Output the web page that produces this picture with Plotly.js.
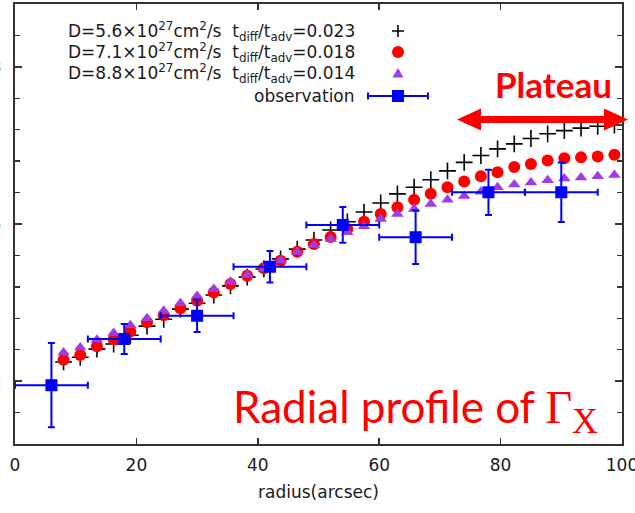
<!DOCTYPE html>
<html><head><meta charset="utf-8">
<script src="https://cdn.plot.ly/plotly-3.0.1.min.js"></script>
<style>html,body{margin:0;padding:0;background:#fff}#chart{width:635px;height:513px}</style>
</head><body><div id="chart"></div>
<script>
// ---- data ----
const radius = [8.0, 10.75, 13.5, 16.25, 19.0, 21.75, 24.5, 27.25, 30.0, 32.75, 35.5, 38.25, 41.0, 43.75, 46.5, 49.25, 52.0, 54.75, 57.5, 60.25, 63.0, 65.75, 68.5, 71.25, 74.0, 76.75, 79.5, 82.25, 85.0, 87.75, 90.5, 93.25, 96.0, 98.75];
const gammaD56 = [2.061, 2.076, 2.102, 2.118, 2.146, 2.175, 2.197, 2.229, 2.248, 2.274, 2.303, 2.331, 2.357, 2.389, 2.420, 2.449, 2.481, 2.507, 2.538, 2.567, 2.596, 2.617, 2.641, 2.669, 2.696, 2.718, 2.739, 2.755, 2.772, 2.787, 2.797, 2.805, 2.811, 2.815];
const gammaD71 = [2.068, 2.083, 2.111, 2.133, 2.158, 2.187, 2.210, 2.232, 2.256, 2.282, 2.309, 2.335, 2.359, 2.383, 2.412, 2.436, 2.459, 2.484, 2.507, 2.532, 2.553, 2.577, 2.596, 2.617, 2.635, 2.652, 2.665, 2.681, 2.691, 2.702, 2.709, 2.712, 2.715, 2.720];
const gammaD88 = [2.091, 2.107, 2.132, 2.153, 2.178, 2.200, 2.224, 2.248, 2.271, 2.293, 2.316, 2.338, 2.358, 2.384, 2.411, 2.433, 2.452, 2.474, 2.493, 2.516, 2.532, 2.548, 2.564, 2.577, 2.589, 2.603, 2.617, 2.626, 2.632, 2.639, 2.645, 2.648, 2.652, 2.656];
const obsRadius = [6, 18, 30, 42, 54, 66, 78, 90];
const obsRadiusErr = [6, 6, 6, 6, 6, 6, 6, 6];
const obsGamma = [1.987, 2.134, 2.208, 2.364, 2.497, 2.458, 2.601, 2.601];
const obsGammaErr = [0.134, 0.048, 0.052, 0.050, 0.057, 0.085, 0.072, 0.095];
const seriesLabels = [
  'D=5.6×10<sup>27</sup>cm<sup>2</sup>/s\u00a0\u00a0t<sub>diff</sub>/t<sub>adv</sub>=0.023',
  'D=7.1×10<sup>27</sup>cm<sup>2</sup>/s\u00a0\u00a0t<sub>diff</sub>/t<sub>adv</sub>=0.018',
  'D=8.8×10<sup>27</sup>cm<sup>2</sup>/s\u00a0\u00a0t<sub>diff</sub>/t<sub>adv</sub>=0.014',
  'observation'
];
const xTickVals = [0, 20, 40, 60, 80, 100];
const yTickVals = [2, 2.5, 3];
const yTickText = ['2', '2.5', '3'];
const xTitle = 'radius(arcsec)';
const plateauLabel = 'Plateau';
const panelLabel = 'Radial profile of <span style="font-family:\'Liberation Serif\';font-size:46px">Γ<sub><span style="font-size:36px">X</span></sub></span>';

// ---- styling ----
const FONT = 'DejaVu Sans, Liberation Sans, sans-serif';
const RED = '#ff0000', PURPLE = '#a03ce6', BLUE = '#0000ff';

const traces = [
  {x: radius, y: gammaD56, type: 'scatter', mode: 'markers', name: seriesLabels[0],
   marker: {symbol: 'cross-thin-open', size: 12, color: '#000', line: {width: 1.6, color: '#000'}}},
  {x: radius, y: gammaD71, type: 'scatter', mode: 'markers', name: seriesLabels[1],
   marker: {symbol: 'circle', size: 12, color: RED, line: {width: 0}}},
  {x: radius, y: gammaD88, type: 'scatter', mode: 'markers', name: seriesLabels[2],
   marker: {symbol: 'triangle-up', size: 11, color: PURPLE, line: {width: 0}}},
  {x: obsRadius, y: obsGamma, type: 'scatter', mode: 'markers', name: seriesLabels[3],
   marker: {symbol: 'square', size: 12, color: BLUE, line: {width: 0}},
   error_x: {type: 'data', array: obsRadiusErr, color: BLUE, thickness: 2, width: 3.5},
   error_y: {type: 'data', array: obsGammaErr, color: BLUE, thickness: 2, width: 3.5}}
];

// plot area: l=15, r=13, t=4, b=69  -> px helpers for decoration placement
const L = 15, T = 4, W = 607, H = 440;
const px = v => (v - L) / W;
const py = v => (T + H - v) / H;

const keyX = px(398);
const rowY = [31, 52, 73, 96].map(py);
const annotations = seriesLabels.map((t, i) => ({
  text: t, xref: 'paper', yref: 'paper', x: px(357), y: rowY[i],
  xanchor: 'right', yanchor: 'middle', showarrow: false,
  font: {family: FONT, size: 17, color: '#1a1a1a'}
}));
annotations.push({
  text: '<b>' + plateauLabel + '</b>', xref: 'paper', yref: 'paper', x: px(553), y: py(84),
  xanchor: 'center', yanchor: 'middle', showarrow: false,
  font: {family: 'Lato, Open Sans, sans-serif', size: 35, color: RED}
});
annotations.push({
  text: panelLabel, xref: 'paper', yref: 'paper', x: px(231), y: py(410),
  xanchor: 'left', yanchor: 'middle', showarrow: false,
  font: {family: 'Lato, Open Sans, sans-serif', size: 44, color: RED}
});

const pix = (xa, ya, extra) => Object.assign({xref: 'paper', yref: 'paper', xsizemode: 'pixel', ysizemode: 'pixel', xanchor: xa, yanchor: ya}, extra);
const shapes = [
  // legend keys
  pix(keyX, rowY[0], {type: 'path', path: 'M-6,0H6M0,-6V6', line: {color: '#000', width: 1.6}}),
  pix(keyX, rowY[1], {type: 'circle', x0: -6, x1: 6, y0: -6, y1: 6, fillcolor: RED, line: {width: 0}}),
  pix(keyX, rowY[2], {type: 'path', path: 'M-5.5,-4.5L5.5,-4.5L0,5Z', fillcolor: PURPLE, line: {width: 0}}),
  pix(keyX, rowY[3], {type: 'path', path: 'M-30,0H30M-30,-3.5V3.5M30,-3.5V3.5', line: {color: BLUE, width: 2}}),
  pix(keyX, rowY[3], {type: 'rect', x0: -6, x1: 6, y0: -6, y1: 6, fillcolor: BLUE, line: {width: 0}}),
  // plateau arrow
  {type: 'line', xref: 'paper', yref: 'paper', x0: px(470), x1: px(615), y0: py(119.5), y1: py(119.5), line: {color: RED, width: 7}},
  pix(px(457), py(119.5), {type: 'path', path: 'M0,0L24,11L24,-11Z', fillcolor: RED, line: {width: 0}}),
  pix(px(628), py(119.5), {type: 'path', path: 'M0,0L-24,11L-24,-11Z', fillcolor: RED, line: {width: 0}})
];

const layout = {
  width: 635, height: 513,
  margin: {l: L, r: 13, t: T, b: 69},
  paper_bgcolor: '#fff', plot_bgcolor: '#fff',
  showlegend: false,
  font: {family: FONT, size: 17, color: '#1a1a1a'},
  xaxis: {
    range: [0, 100], tickvals: xTickVals, ticks: 'inside', ticklen: 6, tickwidth: 1.5, tickcolor: '#333',
    showline: true, linecolor: '#333', linewidth: 2, mirror: 'ticks', showgrid: false, zeroline: false,
    ticklabelstandoff: 5, ticklabeloverflow: 'allow',
    title: {text: xTitle, font: {family: FONT, size: 17, color: '#1a1a1a'}, standoff: 12},
    automargin: false
  },
  yaxis: {
    range: [1.8, 3.2], tickvals: yTickVals, ticktext: yTickText, ticks: 'inside', ticklen: 7, tickwidth: 1.5, tickcolor: '#333',
    minor: {dtick: 0.1, ticks: 'inside', ticklen: 5, tickwidth: 1.5, tickcolor: '#333', showgrid: false},
    showline: true, linecolor: '#333', linewidth: 2, mirror: 'ticks', showgrid: false, zeroline: false,
    ticklabelstandoff: 8, ticklabeloverflow: 'allow', automargin: false
  },
  annotations: annotations,
  shapes: shapes
};

Plotly.newPlot('chart', traces, layout, {staticPlot: true, displayModeBar: false});
</script>
</body></html>
